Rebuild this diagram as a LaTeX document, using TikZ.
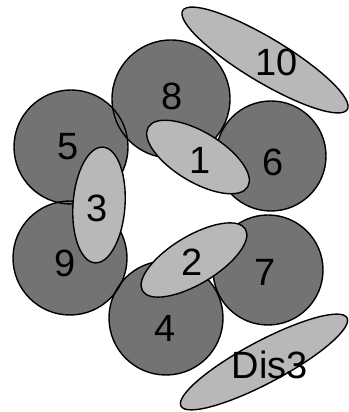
\documentclass[tikz,border=0pt]{standalone}
\usepackage{fontspec}
\setmainfont{Liberation Sans}
\begin{document}
\begin{tikzpicture}[x=1pt,y=1pt,
  discfill/.style={fill=black!55},
  discline/.style={draw=black,line width=1.4pt},
  ovalshape/.style={fill=black!28,draw=black,line width=1.4pt},
  lbl/.style={inner sep=0pt,font=\fontsize{38}{40}\selectfont}]
\useasboundingbox (0,0) rectangle (348,412);
% circles: fill first
\foreach \cx/\cy/\r in {71/265/57, 70/154/57, 171/313/59, 271/256/55, 268/142/55, 166/94/57}{
  \path[discfill] (\cx,\cy) circle (\r);
}
\foreach \cx/\cy/\r in {71/265/57, 70/154/57, 171/313/59, 271/256/55, 268/142/55, 166/94/57}{
  \path[discline] (\cx,\cy) circle (\r);
}
% ellipses
\path[ovalshape] (198,255) ellipse [x radius=58, y radius=25, rotate=-31];
\path[ovalshape] (194,152) ellipse [x radius=60, y radius=24, rotate=31];
\path[ovalshape] (99,207) ellipse [x radius=58, y radius=26, rotate=86];
\path[ovalshape] (265,352) ellipse [x radius=96, y radius=22, rotate=-31];
\path[ovalshape] (264,50) ellipse [x radius=94, y radius=21, rotate=28];
% labels
\node[lbl] (l8) at (172,316) {8};
\node[lbl] (l1) at (200,252) {1};
\node[lbl] (l6) at (273,250) {6};
\node[lbl] (l5) at (68,265) {5};
\node[lbl] (l3) at (97,204) {3};
\node[lbl] (l9) at (65,149) {9};
\node[lbl] (l2) at (192,150) {2};
\node[lbl] (l7) at (265,140) {7};
\node[lbl] (l4) at (165,84) {4};
\node[lbl] (l10) at (277,350) {10};
\node[lbl] (ldis) at (270,47) {Dis3};
\end{tikzpicture}
\end{document}
